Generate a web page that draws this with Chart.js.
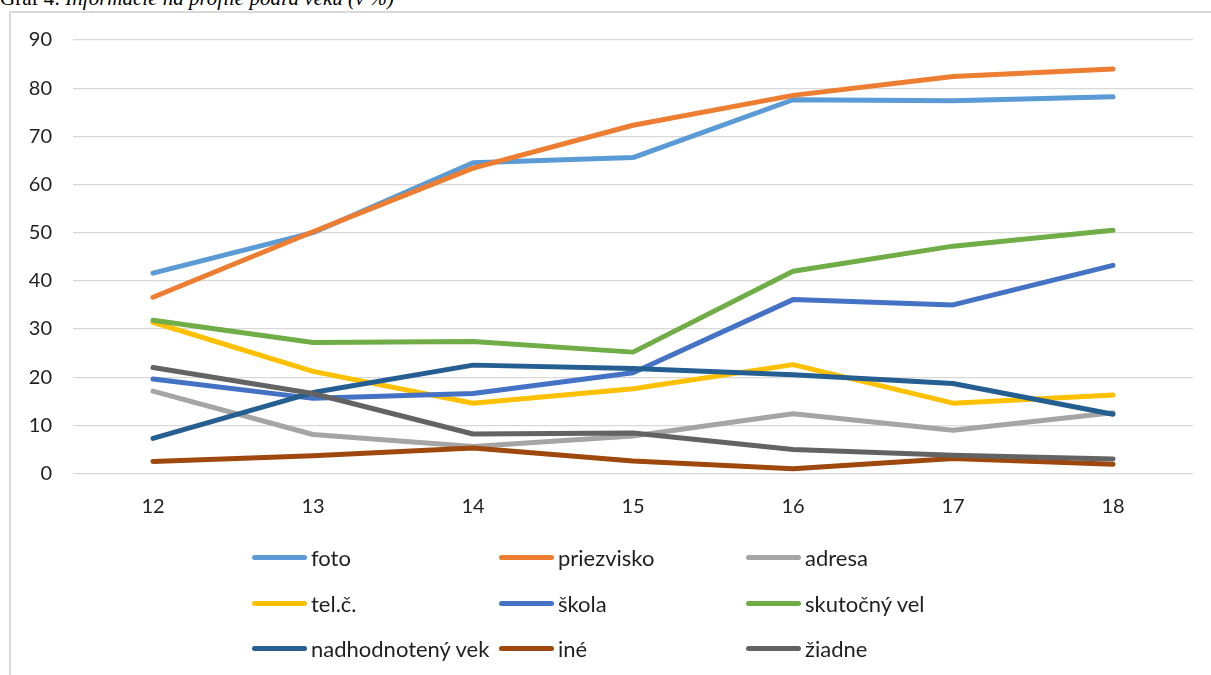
<!DOCTYPE html>
<html>
<head>
<meta charset="utf-8">
<script src="https://cdn.jsdelivr.net/npm/chart.js@4/dist/chart.umd.min.js"></script>
<style>
  html, body { margin: 0; padding: 0; background: #fff; }
  body { width: 1211px; height: 675px; position: relative; overflow: hidden; }
  #title { position: absolute; left: 0; top: -12px; font-family: "Liberation Serif", serif; font-size: 21px; line-height: 21px; color: #000; white-space: nowrap; }
  #title i { font-style: italic; }
  #frame { position: absolute; left: 9px; top: 11px; width: 1300px; height: 700px; border-left: 2px solid #d9d9d9; border-top: 2px solid #d9d9d9; }
  #wrap { position: absolute; left: 0; top: 0; width: 1211px; height: 675px; }
  #legend { position: absolute; left: 252px; top: 535px; display: grid; grid-template-columns: 247px 247px 247px; grid-auto-rows: 45.5px; font-family: Lato, sans-serif; font-size: 22px; color: #1f1f1f; }
  .item { display: flex; align-items: center; white-space: nowrap; }
  .sw { width: 55px; height: 5px; border-radius: 3px; margin-right: 4px; }
</style>
</head>
<body>
<div id="title">Graf 4: <i>Informácie na profile podľa veku (v %)</i></div>
<div id="frame"></div>
<div id="wrap"><canvas id="c" width="1211" height="675"></canvas></div>
<div id="legend"></div>
<script>
const categories = ['12', '13', '14', '15', '16', '17', '18'];
const seriesNames = ['foto', 'priezvisko', 'adresa', 'tel.č.', 'škola', 'skutočný vel', 'nadhodnotený vek', 'iné', 'žiadne'];
const foto = [41.6, 50.0, 64.5, 65.6, 77.6, 77.4, 78.2];
const priezvisko = [36.6, 50.2, 63.4, 72.3, 78.5, 82.4, 84.0];
const adresa = [17.1, 8.1, 5.6, 7.8, 12.4, 9.0, 12.6];
const telC = [31.4, 21.2, 14.6, 17.6, 22.6, 14.6, 16.3];
const skola = [19.6, 15.6, 16.6, 20.9, 36.1, 35.0, 43.2];
const skutocnyVel = [31.8, 27.2, 27.4, 25.2, 42.0, 47.2, 50.5];
const nadhodnotenyVek = [7.3, 16.8, 22.5, 21.8, 20.5, 18.7, 12.3];
const ine = [2.5, 3.7, 5.3, 2.6, 1.0, 3.1, 1.9];
const ziadne = [22.0, 16.6, 8.2, 8.4, 5.0, 3.8, 3.0];
const yTicks = [0, 10, 20, 30, 40, 50, 60, 70, 80, 90];

const values = [foto, priezvisko, adresa, telC, skola, skutocnyVel, nadhodnotenyVek, ine, ziadne];
const colors = ['#5B9BD5', '#ED7D31', '#A5A5A5', '#FFC000', '#4472C4', '#70AD47', '#255E91', '#9E480E', '#636363'];

const datasets = values.map((v, i) => ({
  label: seriesNames[i],
  data: v,
  borderColor: colors[i],
  backgroundColor: colors[i],
  borderWidth: 5,
  borderCapStyle: 'round',
  borderJoinStyle: 'round',
  pointRadius: 0,
  pointHoverRadius: 0,
  tension: 0,
  fill: false,
  order: values.length - i
}));

const chart = new Chart(document.getElementById('c'), {
  type: 'line',
  data: { labels: categories, datasets },
  options: {
    responsive: false,
    animation: false,
    events: [],
    layout: { padding: { left: 0, right: 18, top: 40, bottom: 141.5 } },
    plugins: { legend: { display: false }, title: { display: false }, tooltip: { enabled: false } },
    scales: {
      x: {
        type: 'category',
        offset: true,
        grid: { display: false, drawTicks: false },
        border: { display: false },
        ticks: { padding: 21, color: '#1f1f1f', font: { family: 'Lato', size: 20 } },
        afterFit: (s) => { s.height = 60; }
      },
      y: {
        min: 0, max: 90,
        afterBuildTicks: (s) => { s.ticks = yTicks.map(v => ({ value: v })); },
        grid: { color: '#d9d9d9', lineWidth: 1.3, drawTicks: false },
        border: { display: false },
        ticks: { padding: 21, color: '#1f1f1f', font: { family: 'Lato', size: 20 } },
        afterFit: (s) => { s.width = 73; }
      }
    }
  }
});

const legend = document.getElementById('legend');
chart.data.datasets.forEach(ds => {
  const item = document.createElement('div');
  item.className = 'item';
  const sw = document.createElement('span');
  sw.className = 'sw';
  sw.style.background = ds.borderColor;
  const tx = document.createElement('span');
  tx.textContent = ds.label;
  item.appendChild(sw);
  item.appendChild(tx);
  legend.appendChild(item);
});
</script>
</body>
</html>
